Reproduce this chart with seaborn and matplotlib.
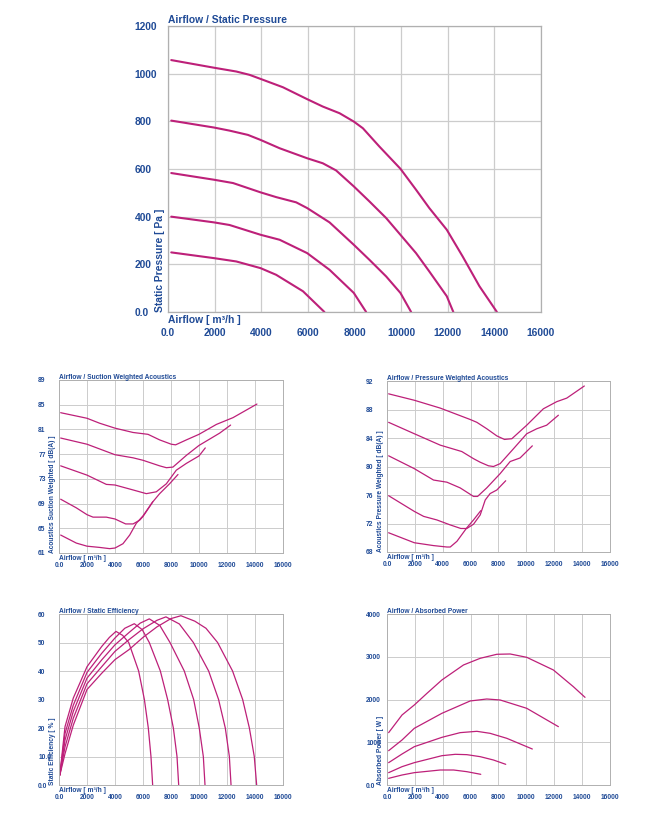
import numpy as np
import pandas as pd
import seaborn as sns
import matplotlib.pyplot as plt

sns.set_style('whitegrid', {'grid.color': '#cccccc', 'axes.edgecolor': '#a8a8a8'})
plt.rcParams['font.family'] = ['Liberation Sans', 'DejaVu Sans']

blue = '#1f4a96'
line_col = '#bd2079'

# ---- data (airflow m3/h) ----
x_ticks = [0, 2000, 4000, 6000, 8000, 10000, 12000, 14000, 16000]
x_labels = ['0.0', '2000', '4000', '6000', '8000', '10000', '12000', '14000', '16000']

# static pressure [Pa]
sp_x1 = [140, 1970, 2930, 3500, 3970, 4930, 5970, 6640, 7360, 7970, 8360, 9070, 9970, 10640, 11210, 11960, 12640, 13360, 14110]
sp_y1 = [1057, 1025, 1009, 995, 978, 943, 893, 862, 834, 799, 771, 694, 601, 513, 436, 345, 233, 108, 0]
sp_x2 = [140, 1970, 2640, 3430, 3970, 4790, 5970, 6640, 7210, 7970, 8640, 9360, 9970, 10640, 11210, 11960, 12240]
sp_y2 = [803, 774, 761, 743, 722, 687, 645, 624, 594, 527, 464, 394, 324, 247, 170, 66, 0]
sp_x3 = [140, 1970, 2790, 3970, 4640, 5500, 5970, 6930, 7970, 8640, 9360, 9970, 10430]
sp_y3 = [583, 555, 541, 502, 482, 460, 436, 376, 282, 219, 149, 80, 0]
sp_x4 = [140, 1970, 2640, 3970, 4790, 5970, 6930, 7970, 8500]
sp_y4 = [400, 376, 365, 324, 303, 247, 177, 80, 0]
sp_x5 = [140, 1970, 2930, 3970, 4640, 5790, 6710]
sp_y5 = [250, 226, 212, 184, 156, 87, 0]

# suction weighted acoustics [dB(A)]
su_x1 = [120, 2000, 2900, 4000, 5290, 6360, 7190, 8020, 8330, 9100, 10000, 11240, 12430, 14140]
su_y1 = [83.7, 82.8, 82.0, 81.2, 80.5, 80.2, 79.3, 78.6, 78.5, 79.3, 80.2, 81.8, 82.9, 85.1]
su_x2 = [120, 2000, 4000, 5290, 6000, 7190, 7670, 8140, 9100, 10000, 11480, 12260]
su_y2 = [79.6, 78.6, 76.9, 76.4, 76.0, 75.1, 74.8, 74.9, 76.8, 78.4, 80.4, 81.7]
su_x3 = [120, 2000, 3380, 4000, 5290, 6240, 6950, 7670, 8380, 9100, 10000, 10450]
su_y3 = [75.1, 73.6, 72.1, 72.0, 71.2, 70.6, 70.9, 72.2, 74.4, 75.5, 76.7, 78.0]
su_x4 = [120, 1240, 2000, 2430, 3380, 4000, 4760, 5290, 5760, 6000, 6710, 7190, 7900, 8500]
su_y4 = [69.7, 68.3, 67.2, 66.8, 66.8, 66.5, 65.7, 65.7, 66.3, 66.9, 69.3, 70.6, 72.2, 73.7]
su_x5 = [120, 1240, 2000, 2900, 3620, 4000, 4570, 5050, 5520, 6000, 6700]
su_y5 = [63.9, 62.6, 62.1, 61.9, 61.7, 61.8, 62.5, 63.9, 65.8, 67.0, 69.3]

# pressure weighted acoustics [dB(A)]
pw_x1 = [120, 1960, 3820, 5970, 6450, 7160, 7880, 8430, 8960, 10030, 11220, 12180, 12900, 14160]
pw_y1 = [90.2, 89.3, 88.2, 86.6, 86.2, 85.3, 84.3, 83.8, 83.9, 85.8, 88.1, 89.1, 89.6, 91.3]
pw_x2 = [120, 1960, 3820, 5370, 6210, 6690, 7280, 7640, 8120, 9080, 10030, 10750, 11460, 12300]
pw_y2 = [86.2, 84.6, 83.0, 82.1, 81.1, 80.6, 80.1, 80.0, 80.4, 82.5, 84.6, 85.3, 85.8, 87.2]
pw_x3 = [120, 1960, 3340, 4300, 5250, 6210, 6500, 7160, 8120, 8840, 9550, 10430]
pw_y3 = [81.5, 79.7, 78.1, 77.8, 77.0, 75.8, 75.8, 77.0, 79.0, 80.7, 81.2, 82.9]
pw_x4 = [120, 1960, 2630, 3580, 4540, 5300, 5730, 6210, 6690, 7050, 7400, 7880, 8520]
pw_y4 = [75.9, 73.7, 73.0, 72.5, 71.8, 71.3, 71.3, 71.9, 73.2, 75.3, 76.2, 76.7, 78.0]
pw_x5 = [120, 1960, 3340, 4300, 4540, 5020, 5730, 6210, 6730]
pw_y5 = [70.7, 69.3, 68.9, 68.7, 68.7, 69.5, 71.4, 72.5, 73.8]

# static efficiency [%]
ef_x1 = [60, 430, 1020, 2000, 3050, 4000, 5000, 6000, 7000, 8000, 8710, 9700, 10500, 11330, 12400, 13120, 13600, 13950, 14120]
ef_y1 = [3.5, 11, 21, 33.5, 39.2, 44, 47.5, 51.8, 55.5, 58.4, 59.4, 57.5, 55, 50, 40, 30, 20, 10, 0]
ef_x2 = [60, 430, 1020, 2000, 3050, 4000, 5000, 6000, 7000, 7640, 8600, 9600, 10690, 11400, 11880, 12170, 12290]
ef_y2 = [3.5, 13.4, 23.4, 35.5, 41.5, 46.9, 51, 54.8, 57.8, 59, 56.5, 50, 40, 30, 20, 10, 0]
ef_x3 = [60, 430, 1020, 2000, 3050, 4000, 5000, 5800, 6450, 7200, 7930, 8950, 9620, 10020, 10310, 10430]
ef_y3 = [3.5, 15.8, 25.8, 37.5, 43.9, 49.2, 53.5, 56.8, 58.3, 56, 50, 40, 30, 20, 10, 0]
ef_x4 = [60, 430, 1020, 2000, 3050, 4000, 4700, 5380, 5950, 6450, 7240, 7760, 8170, 8430, 8550]
ef_y4 = [3.5, 18.1, 28, 39.5, 46.2, 51.6, 55, 56.6, 54.5, 50, 40, 30, 20, 10, 0]
ef_x5 = [60, 430, 1020, 2000, 3050, 3600, 4070, 4550, 4980, 5690, 6100, 6380, 6570, 6690]
ef_y5 = [3.5, 20.5, 30.5, 41.5, 48.6, 51.8, 53.9, 52.5, 50, 40, 30, 20, 10, 0]

# absorbed power [W]
ap_x1 = [120, 1080, 1960, 2870, 3940, 5490, 6690, 7880, 8840, 10030, 11940, 13370, 14210]
ap_y1 = [1225, 1638, 1872, 2145, 2457, 2808, 2964, 3058, 3065, 2987, 2691, 2301, 2051]
ap_x2 = [120, 1080, 1960, 3940, 5970, 7160, 8120, 10030, 12300]
ap_y2 = [803, 1053, 1326, 1677, 1966, 2012, 1989, 1794, 1365]
ap_x3 = [120, 1080, 1960, 3940, 5250, 6450, 7400, 8600, 10430]
ap_y3 = [523, 725, 897, 1115, 1225, 1256, 1209, 1092, 842]
ap_x4 = [120, 1080, 1960, 3940, 4900, 5730, 6690, 7640, 8520]
ap_y4 = [289, 429, 523, 686, 718, 710, 663, 585, 484]
ap_x5 = [120, 1080, 1960, 3820, 4780, 5730, 6730]
ap_y5 = [156, 234, 289, 351, 351, 312, 250]

panels = [
    dict(pos=[0.2557, 0.6172, 0.5677, 0.3509], big=True,
         series=[(sp_x1, sp_y1), (sp_x2, sp_y2), (sp_x3, sp_y3), (sp_x4, sp_y4), (sp_x5, sp_y5)],
         ylim=(0, 1200), yticks=[0, 200, 400, 600, 800, 1000, 1200],
         ylabels=['0.0', '200', '400', '600', '800', '1000', '1200'],
         title='Airflow / Static Pressure', ylabel='Static Pressure [ Pa ]'),
    dict(pos=[0.0898, 0.3215, 0.3409, 0.2123], big=False,
         series=[(su_x1, su_y1), (su_x2, su_y2), (su_x3, su_y3), (su_x4, su_y4), (su_x5, su_y5)],
         ylim=(61, 89), yticks=[61, 65, 69, 73, 77, 81, 85, 89],
         ylabels=['61', '65', '69', '73', '77', '81', '85', '89'],
         title='Airflow / Suction Weighted Acoustics', ylabel='Acoustics Suction Weighted [ dB(A) ]'),
    dict(pos=[0.589, 0.3227, 0.3394, 0.2098], big=False,
         series=[(pw_x1, pw_y1), (pw_x2, pw_y2), (pw_x3, pw_y3), (pw_x4, pw_y4), (pw_x5, pw_y5)],
         ylim=(68, 92), yticks=[68, 72, 76, 80, 84, 88, 92],
         ylabels=['68', '72', '76', '80', '84', '88', '92'],
         title='Airflow / Pressure Weighted Acoustics', ylabel='Acoustics Pressure Weighted [ dB(A) ]'),
    dict(pos=[0.0898, 0.0368, 0.3409, 0.2098], big=False,
         series=[(ef_x1, ef_y1), (ef_x2, ef_y2), (ef_x3, ef_y3), (ef_x4, ef_y4), (ef_x5, ef_y5)],
         ylim=(0, 60), yticks=[0, 10, 20, 30, 40, 50, 60],
         ylabels=['0.0', '10.0', '20', '30', '40', '50', '60'],
         title='Airflow / Static Efficiency', ylabel='Static Efficiency [ % ]'),
    dict(pos=[0.589, 0.0368, 0.3394, 0.2098], big=False,
         series=[(ap_x1, ap_y1), (ap_x2, ap_y2), (ap_x3, ap_y3), (ap_x4, ap_y4), (ap_x5, ap_y5)],
         ylim=(0, 4000), yticks=[0, 1000, 2000, 3000, 4000],
         ylabels=['0.0', '1000', '2000', '3000', '4000'],
         title='Airflow / Absorbed Power', ylabel='Absorbed Power [ W ]'),
]

fig = plt.figure(figsize=(6.57, 8.15), dpi=100)

for p in panels:
    ax = fig.add_axes(p['pos'])
    big = p['big']
    fs = 7.4 if big else 4.8
    lw = 1.5 if big else 0.9
    for xs, ys in p['series']:
        df = pd.DataFrame({'x': xs, 'y': ys})
        sns.lineplot(data=df, x='x', y='y', ax=ax, color=line_col, lw=lw,
                     sort=False, estimator=None)
    ax.set_xlim(0, 16000)
    ax.set_ylim(*p['ylim'])
    ax.set_xticks(x_ticks, x_labels)
    ax.set_yticks(p['yticks'], p['ylabels'])
    ax.grid(True, color='#cccccc', lw=0.9 if big else 0.7)
    for s in ax.spines.values():
        s.set_color('#b0b0b0')
        s.set_linewidth(0.9 if big else 0.7)
    ax.tick_params(axis='both', length=0, labelsize=fs, labelcolor=blue)
    ax.tick_params(axis='y', pad=24 if big else 15)
    ax.tick_params(axis='x', pad=11.5 if big else 6.5)
    for t in ax.get_yticklabels():
        t.set_horizontalalignment('left')
        t.set_fontweight('bold')
    for t in ax.get_xticklabels():
        t.set_fontweight('bold')
    ax.set_xlabel('')
    ax.set_ylabel(p['ylabel'], loc='bottom', fontsize=fs, color=blue, fontweight='bold')
    ax.yaxis.set_label_coords(-0.008 if big else -0.013, 0)
    ax.set_title(p['title'], loc='left', fontsize=fs, color=blue, fontweight='bold',
                 pad=2 if big else 0.8)
    ax.text(0, -0.012, 'Airflow [ m³/h ]', transform=ax.transAxes, ha='left', va='top',
            fontsize=fs, color=blue, fontweight='bold')

fig.savefig('out.png', dpi=100)
